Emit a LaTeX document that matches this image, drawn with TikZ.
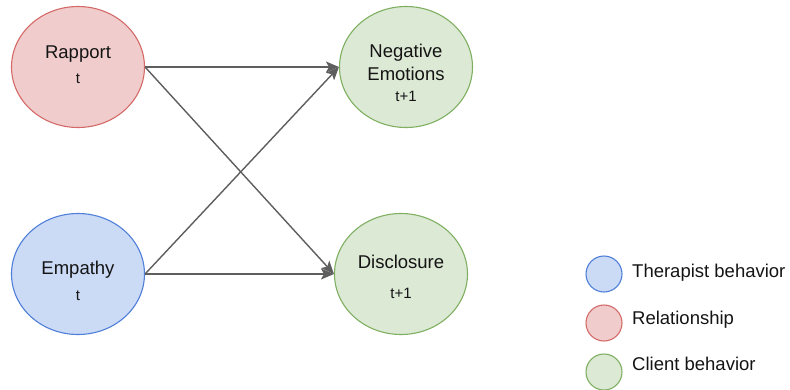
\documentclass[tikz,border=0pt]{standalone}
\usepackage{fontspec}
\setmainfont{Liberation Sans}
\usetikzlibrary{shapes.geometric,arrows.meta}
\definecolor{redf}{HTML}{F0CDCC}
\definecolor{redd}{HTML}{D46A68}
\definecolor{bluef}{HTML}{CBDAF5}
\definecolor{blued}{HTML}{4F7FD9}
\definecolor{greenf}{HTML}{DCE9D5}
\definecolor{greend}{HTML}{7FB061}
\definecolor{arrc}{HTML}{5E5E5E}
\definecolor{txt}{HTML}{141414}
\tikzset{
  ell/.style={ellipse, minimum width=133pt, minimum height=121pt, inner sep=0pt, line width=1.1pt},
  leg/.style={circle, minimum size=36pt, inner sep=0pt, line width=1.1pt},
  big/.style={font=\fontsize{18.5}{20}\selectfont, text=txt, inner sep=0pt},
  small/.style={font=\fontsize{15}{17}\selectfont, text=txt, inner sep=0pt},
  arr/.style={draw=arrc, line width=1.4pt, -{Stealth[length=13pt,width=11pt,inset=3pt]}}
}
\begin{document}
\begin{tikzpicture}[x=1pt,y=-1pt]
\useasboundingbox (0,0) rectangle (790,389);
% main ellipses
\node[ell, fill=redf, draw=redd] (rap) at (78,67) {};
\node[ell, fill=greenf, draw=greend] (neg) at (406,67) {};
\node[ell, fill=bluef, draw=blued] (emp) at (78,274) {};
\node[ell, fill=greenf, draw=greend] (dis) at (401,274) {};
% labels
\node[big, anchor=base] (rapl) at (78,58) {Rapport};
\node[small, anchor=base] (rapt) at (78,83) {t};
\node[big, anchor=base] (negl1) at (406,57) {Negative};
\node[big, anchor=base] (negl2) at (406,80) {Emotions};
\node[small, anchor=base] (negt) at (406,101) {t+1};
\node[big, anchor=base] (empl) at (78,274) {Empathy};
\node[small, anchor=base] (empt) at (78,300) {t};
\node[big, anchor=base] (disl) at (401,268) {Disclosure};
\node[small, anchor=base] (dist) at (401,298) {t+1};
% arrows
\draw[arr] (rap.east) -- (neg.west);
\draw[arr] (rap.east) -- (dis.west);
\draw[arr] (emp.east) -- (neg.west);
\draw[arr] (emp.east) -- (dis.west);
% legend
\node[leg, fill=bluef, draw=blued] (lt) at (604,274) {};
\node[leg, fill=redf, draw=redd] (lr) at (604,323) {};
\node[leg, fill=greenf, draw=greend] (lc) at (604,372) {};
\node[big, anchor=base west] (ltt) at (632,277) {Therapist behavior};
\node[big, anchor=base west] (lrt) at (632,324) {Relationship};
\node[big, anchor=base west] (lct) at (632,370) {Client behavior};
\end{tikzpicture}
\end{document}
